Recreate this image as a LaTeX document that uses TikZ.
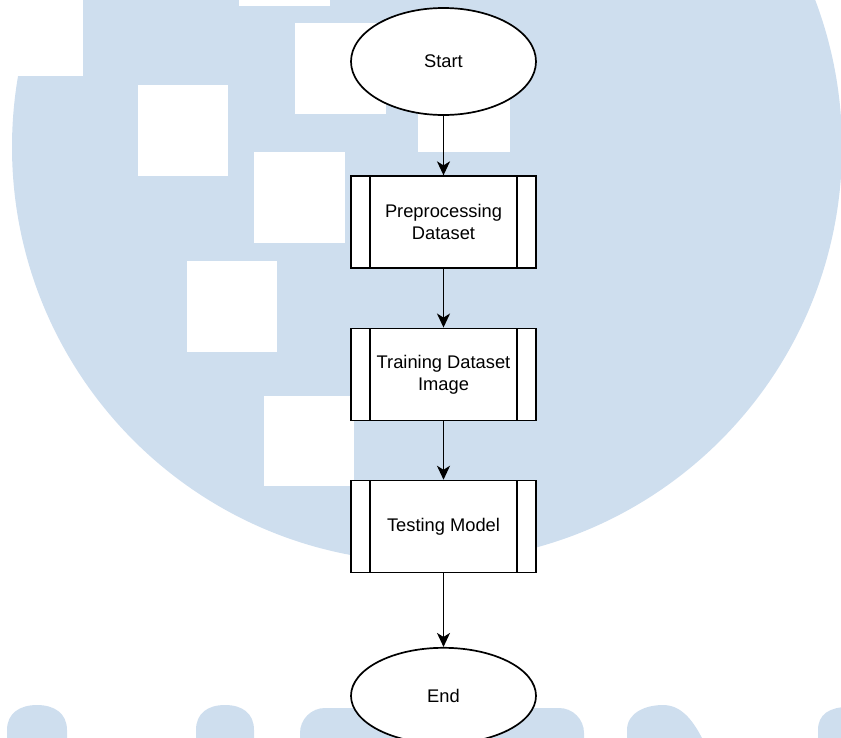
\documentclass[tikz,border=0pt]{standalone}
\usepackage{fontspec}
\setmainfont{Liberation Sans}
\usepackage{tikz}
\usepackage{xcolor}
\usetikzlibrary{shapes.geometric, arrows.meta, positioning}
\definecolor{umnBlue}{RGB}{206, 222, 238}

\begin{document}
\begin{tikzpicture}[
        x=1pt, y=-1pt,
        node distance=58.5pt,
        terminal/.style={ellipse, draw=black, line width=1.7pt, fill=white, minimum width=185pt, minimum height=107pt, align=center, font=\fontsize{18.3}{22}\selectfont},
        subproc/.style={rectangle, draw=black, line width=1.7pt, fill=white, minimum width=185pt, minimum height=92pt, align=center, font=\fontsize{18.3}{22}\selectfont,
            path picture={
                \draw[line width=1.7pt] ([xshift=19pt]path picture bounding box.north west) -- ([xshift=19pt]path picture bounding box.south west);
                \draw[line width=1.7pt] ([xshift=-19pt]path picture bounding box.north east) -- ([xshift=-19pt]path picture bounding box.south east);
            }},
        arrow/.style={-{Stealth[length=14pt, width=13pt, inset=4pt]}, line width=1.7pt, black}
    ]
        \useasboundingbox (0,0) rectangle (841,737);

        % Watermark
        \fill[umnBlue] (427,147) circle (415);
        \fill[white] (0,0) rectangle (83,76);
        \fill[white] (239,-10) rectangle (330,6);
        \fill[white] (295,23) rectangle (386,114);
        \fill[white] (138,85) rectangle (228,176);
        \fill[white] (418,61) rectangle (510,152);
        \fill[white] (254,152) rectangle (345,243);
        \fill[white] (187,261) rectangle (277,352);
        \fill[white] (264,396) rectangle (354,486);
        \fill[umnBlue] (7,740) -- (7,730) .. controls (7,713) and (20,705) .. (37,705) .. controls (54,705) and (67,713) .. (67,730) -- (67,740) -- cycle;
        \fill[umnBlue] (196,740) -- (196,730) .. controls (196,713) and (208,705) .. (225,705) .. controls (242,705) and (254,713) .. (254,730) -- (254,740) -- cycle;
        \fill[umnBlue, rounded corners=25pt] (300,780) rectangle (584,708);
        \fill[umnBlue] (627,740) -- (627,730) .. controls (627,713) and (645,705) .. (663,705) .. controls (680,705) and (692,718) .. (703,740) -- cycle;
        \fill[umnBlue] (818,740) -- (818,730) .. controls (818,714) and (830,707) .. (848,707) -- (860,740) -- cycle;

        % Steps
        \node[terminal] (start) at (443.5,61.5) {Start};
        \node[subproc, below=59.5pt of start] (prep) {Preprocessing\\Dataset};
        \node[subproc, below=of prep] (train) {Training Dataset\\Image};
        \node[subproc, below=of train] (test) {Testing Model};
        \node[terminal, minimum height=96pt, below=73.5pt of test] (end) {End};

        % Arrows
        \draw[arrow] (start) -- (prep);
        \draw[arrow] (prep) -- (train);
        \draw[arrow] (train) -- (test);
        \draw[arrow] (test) -- (end);
    \end{tikzpicture}
\end{document}
